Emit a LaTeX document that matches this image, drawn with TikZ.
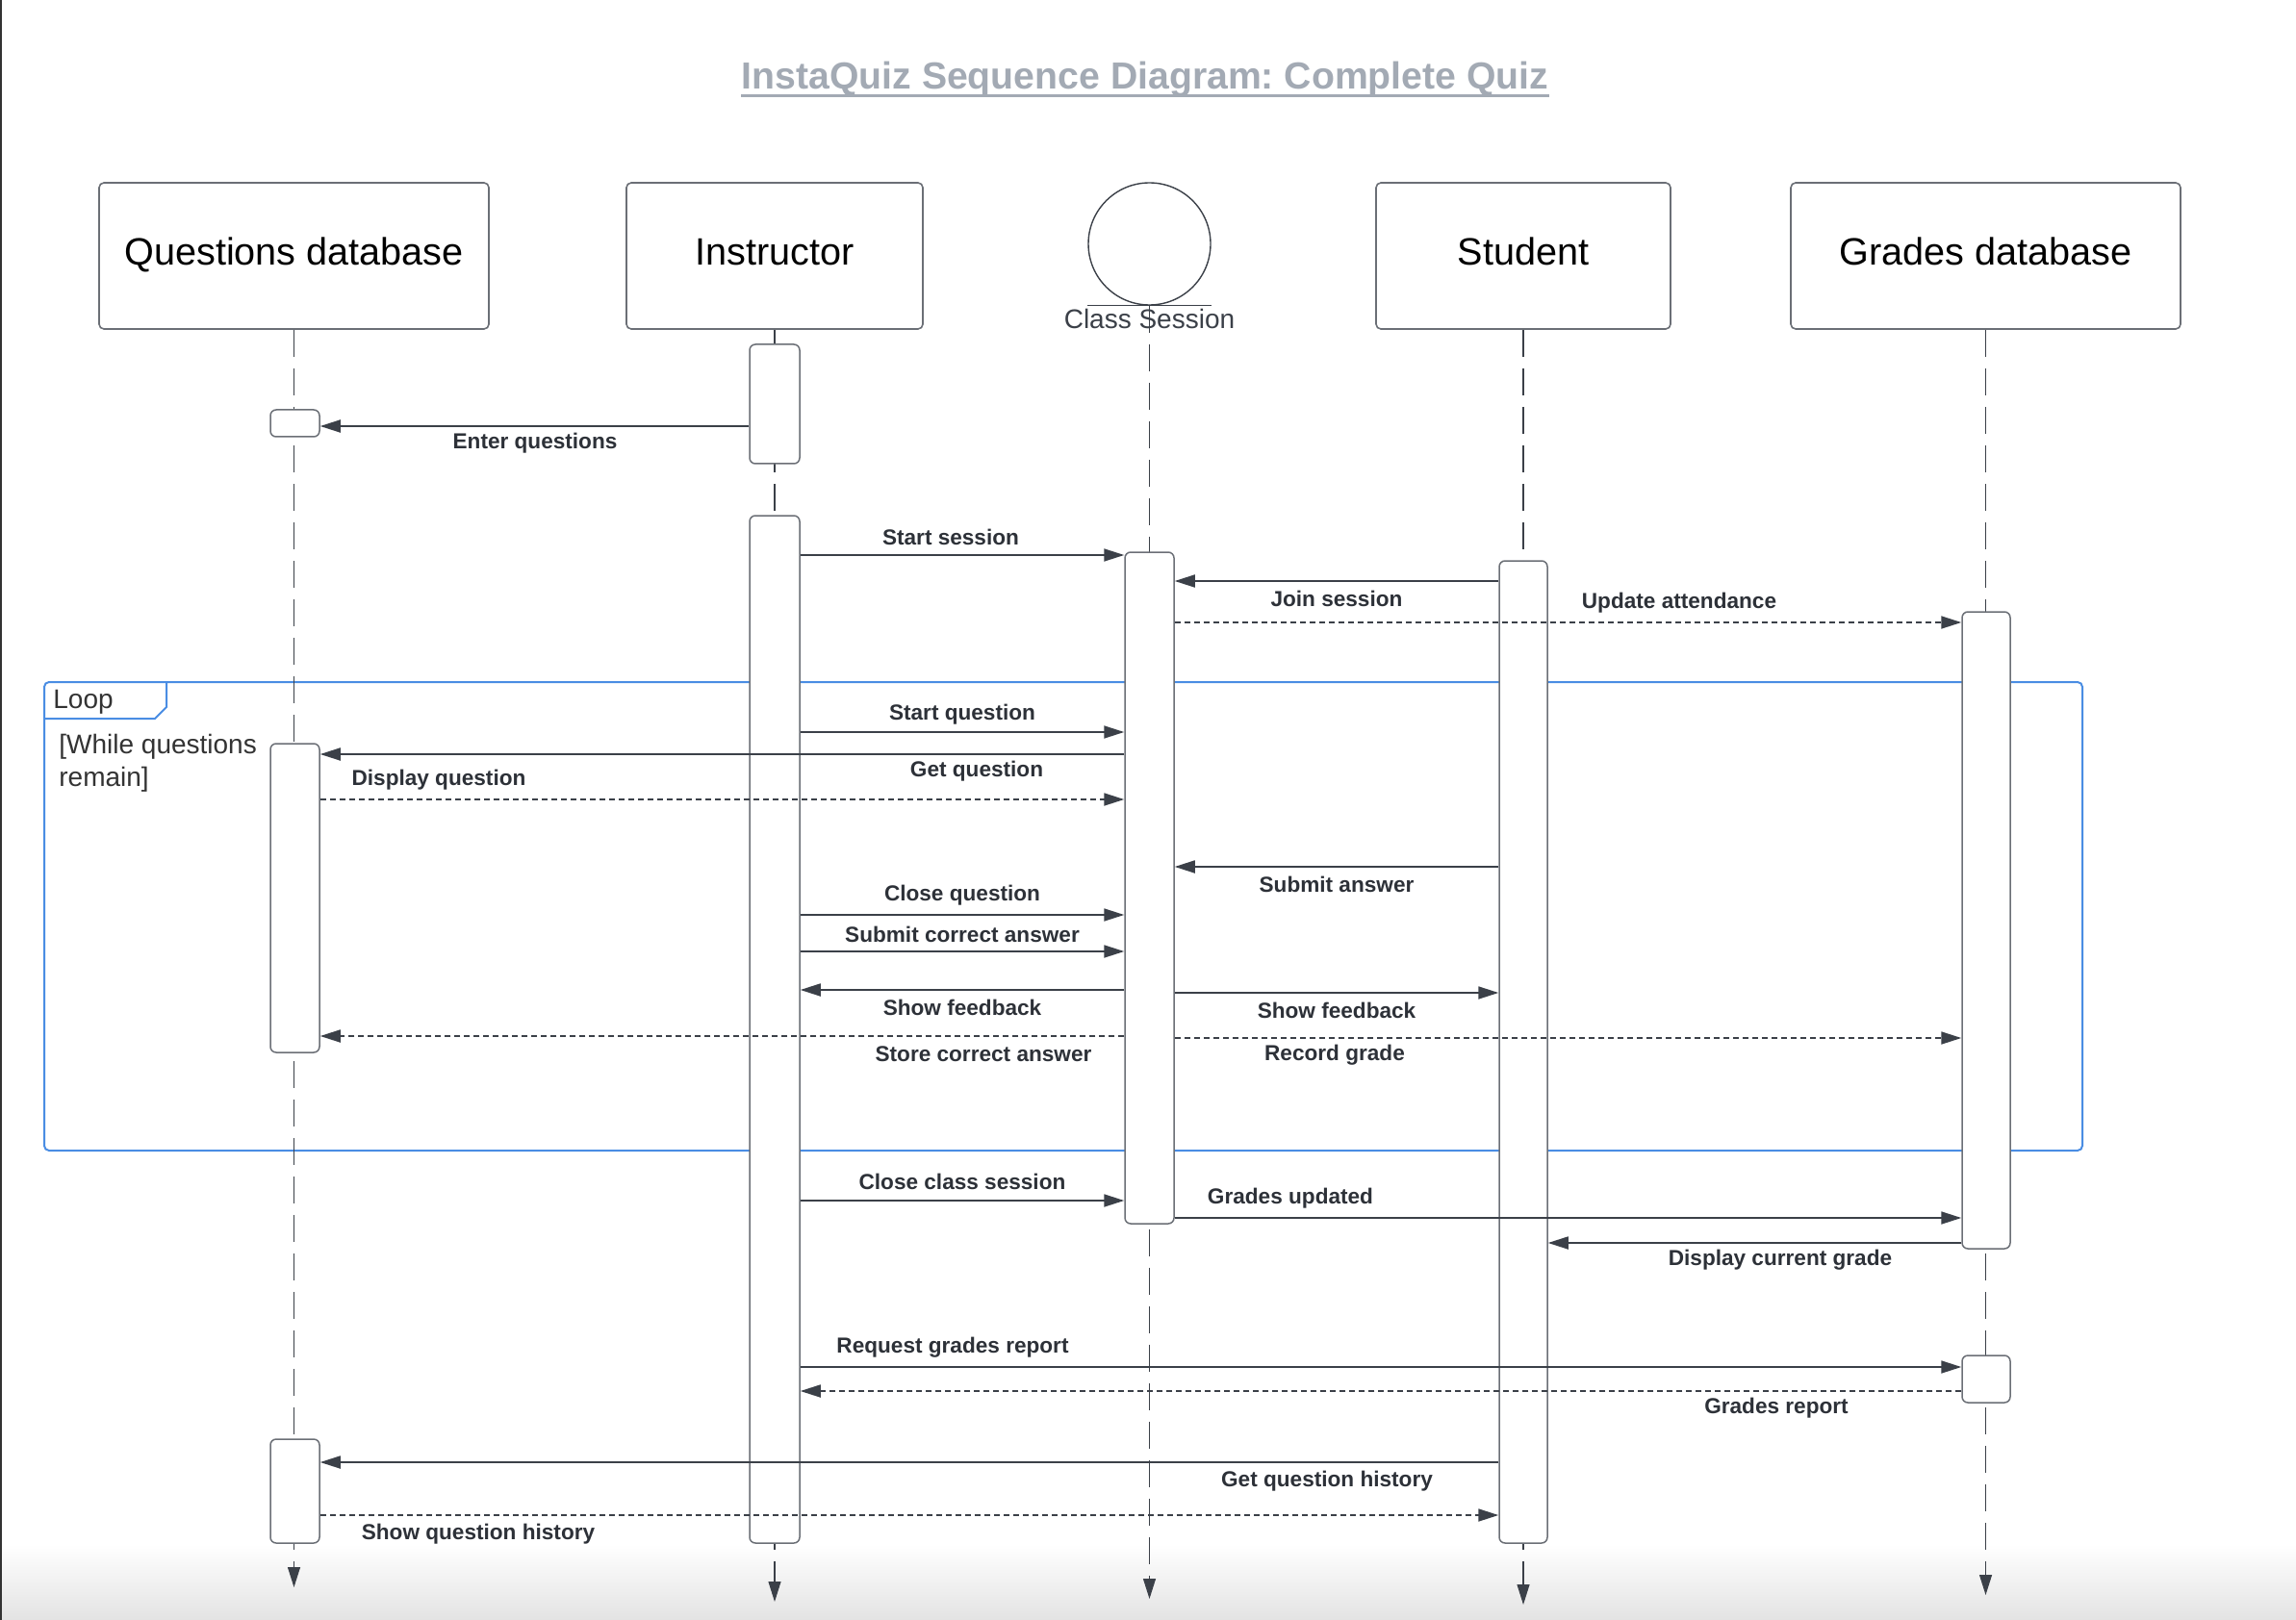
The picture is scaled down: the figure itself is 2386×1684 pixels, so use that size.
\documentclass[tikz,border=0pt]{standalone}
\usepackage{fontspec}
\setmainfont{Liberation Sans}
\frenchspacing
\usetikzlibrary{arrows.meta,fit,shapes.geometric}
\definecolor{linec}{HTML}{3B4048}
\definecolor{boxc}{HTML}{6B6F76}
\definecolor{titlegray}{HTML}{A3AAB4}
\definecolor{lblc}{HTML}{2D3138}
\definecolor{loopblue}{HTML}{4A8DE3}
\tikzset{
  hdr/.style={draw=boxc, fill=white, line width=0.8pt, rounded corners=2.5pt, inner sep=0pt,
    minimum height=76pt, text height=0.95em, text depth=0pt,
    font=\fontsize{19.8}{24}\selectfont, text=black},
  act/.style={draw=boxc, fill=white, line width=0.75pt, rounded corners=3pt, inner sep=0pt},
  life/.style={draw=linec, line width=0.55pt, dash pattern=on 14pt off 6pt,
    -{Triangle[length=10.5pt,width=6.5pt]}},
  msg/.style={draw=linec, line width=0.9pt, -{Triangle[length=10.5pt,width=6.5pt]}},
  dmsg/.style={msg, dash pattern=on 3pt off 2pt},
  lbl/.style={font=\bfseries\fontsize{11.3}{13}\selectfont, text=lblc, inner sep=1pt, yshift=-1.5pt},
}
\begin{document}
\begin{tikzpicture}[x=0.5pt,y=-0.5pt]
\useasboundingbox (0,0) rectangle (2386,1684);
\shade[top color=white, bottom color=black!11] (0,1605) rectangle (2386,1684);
\draw[line width=1pt, black!80] (1,0) -- (1,1684);

% title
\node[font=\bfseries\fontsize{19.6}{23}\selectfont, text=titlegray, anchor=base, inner sep=0pt] (title) at (1190,93) {InstaQuiz Sequence Diagram: Complete Quiz};
\draw[titlegray, line width=1.6pt] ([yshift=-3.2pt]title.base west) -- ([yshift=-3.2pt]title.base east);

% headers
\node[hdr, minimum width=202.5pt] (qh) at (305.5,266) {Questions database};
\node[hdr, minimum width=154pt] (ih) at (805,266) {Instructor};
\node[circle, draw=linec, line width=0.7pt, minimum size=63.5pt, inner sep=0pt] (csh) at (1194.5,253.5) {};
\node[hdr, minimum width=153pt] (sh) at (1583,266) {Student};
\node[hdr, minimum width=202.5pt] (gh) at (2063.5,266) {Grades database};

% lifeline ends
\coordinate (qe) at (305.5,1650);
\coordinate (ie) at (805,1665);
\coordinate (cse) at (1194.5,1662);
\coordinate (se) at (1583,1668);
\coordinate (ge) at (2063.5,1658);

% loop frame
\draw[loopblue, line width=1pt, rounded corners=2.5pt] (46,709) rectangle (2164,1196);
\draw[loopblue, line width=1pt] (173,709) -- (173,735) -- (161,747) -- (46,747);
\node[anchor=west, font=\fontsize{14}{17}\selectfont, text=black!80, inner sep=0pt] (looplbl) at (55,730) {Loop};
\node[anchor=north west, align=left, font=\fontsize{14}{17}\selectfont, text=black!80, inner sep=0pt] (guard) at (61,763) {[While questions\\remain]};

% lifelines
\draw[life] (qh.south) -- (qe);
\draw[life] (ih.south) -- (ie);
\draw[life] (csh.south) -- (cse);
\draw[life] (sh.south) -- (se);
\draw[life] (gh.south) -- (ge);

\draw[linec, line width=0.7pt] (csh.west |- csh.south) -- (csh.east |- csh.south);
\node[font=\fontsize{14}{17}\selectfont, text=linec, inner sep=0pt] (cst) at (1194.5,331) {Class Session};

% activation boxes
\node[act, fit={(281,426)(332,454)}] (qa1) {};
\node[act, fit={(281,773)(332,1094)}] (qa2) {};
\node[act, fit={(281,1496)(332,1604)}] (qa3) {};
\node[act, fit={(779,358)(831,482)}] (ia1) {};
\node[act, fit={(779,536)(831,1604)}] (ia2) {};
\node[act, fit={(1169,574)(1220,1272)}] (csa) {};
\node[act, fit={(1558,583)(1608,1604)}] (sa) {};
\node[act, fit={(2039,636)(2089,1298)}] (ga1) {};
\node[act, fit={(2039,1409)(2089,1458)}] (ga2) {};

% messages
\draw[msg] (ia1.west |- 0,443) -- (qa1.east |- 0,443);
\node[lbl] (m1) at (556,458) {Enter questions};
\draw[msg] (ia2.east |- 0,577) -- (csa.west |- 0,577);
\node[lbl] (m2) at (988,555) {Start session};
\draw[msg] (sa.west |- 0,604) -- (csa.east |- 0,604);
\node[lbl] (m3) at (1389,619) {Join session};
\draw[dmsg] (csa.east |- 0,647) -- (ga1.west |- 0,647);
\node[lbl] (m4) at (1745,624) {Update attendance};
\draw[msg] (ia2.east |- 0,761) -- (csa.west |- 0,761);
\node[lbl] (m5) at (1000,740) {Start question};
\draw[msg] (csa.west |- 0,784) -- (qa2.east |- 0,784);
\node[lbl] (m6) at (1015,799) {Get question};
\draw[dmsg] (qa2.east |- 0,831) -- (csa.west |- 0,831);
\node[lbl] (m7) at (456,808) {Display question};
\draw[msg] (sa.west |- 0,901) -- (csa.east |- 0,901);
\node[lbl] (m8) at (1389,916) {Submit answer};
\draw[msg] (ia2.east |- 0,951) -- (csa.west |- 0,951);
\node[lbl] (m9) at (1000,928) {Close question};
\draw[msg] (ia2.east |- 0,989) -- (csa.west |- 0,989);
\node[lbl] (m10) at (1000,968) {Submit correct answer};
\draw[msg] (csa.west |- 0,1029) -- (ia2.east |- 0,1029);
\node[lbl] (m11) at (1000,1044) {Show feedback};
\draw[msg] (csa.east |- 0,1032) -- (sa.west |- 0,1032);
\node[lbl] (m12) at (1389,1047) {Show feedback};
\draw[dmsg] (csa.west |- 0,1077) -- (qa2.east |- 0,1077);
\node[lbl] (m13) at (1022,1093) {Store correct answer};
\draw[dmsg] (csa.east |- 0,1079) -- (ga1.west |- 0,1079);
\node[lbl] (m14) at (1387,1094) {Record grade};
\draw[msg] (ia2.east |- 0,1248) -- (csa.west |- 0,1248);
\node[lbl] (m15) at (1000,1225) {Close class session};
\draw[msg] (csa.east |- 0,1266) -- (ga1.west |- 0,1266);
\node[lbl] (m16) at (1341,1243) {Grades updated};
\draw[msg] (ga1.west |- 0,1292) -- (sa.east |- 0,1292);
\node[lbl] (m17) at (1850,1307) {Display current grade};
\draw[msg] (ia2.east |- 0,1421) -- (ga2.west |- 0,1421);
\node[lbl] (m18) at (990,1398) {Request grades report};
\draw[dmsg] (ga2.west |- 0,1446) -- (ia2.east |- 0,1446);
\node[lbl] (m19) at (1846,1461) {Grades report};
\draw[msg] (sa.west |- 0,1520) -- (qa3.east |- 0,1520);
\node[lbl] (m20) at (1379,1537) {Get question history};
\draw[dmsg] (qa3.east |- 0,1575) -- (sa.west |- 0,1575);
\node[lbl] (m21) at (497,1592) {Show question history};
\end{tikzpicture}
\end{document}
